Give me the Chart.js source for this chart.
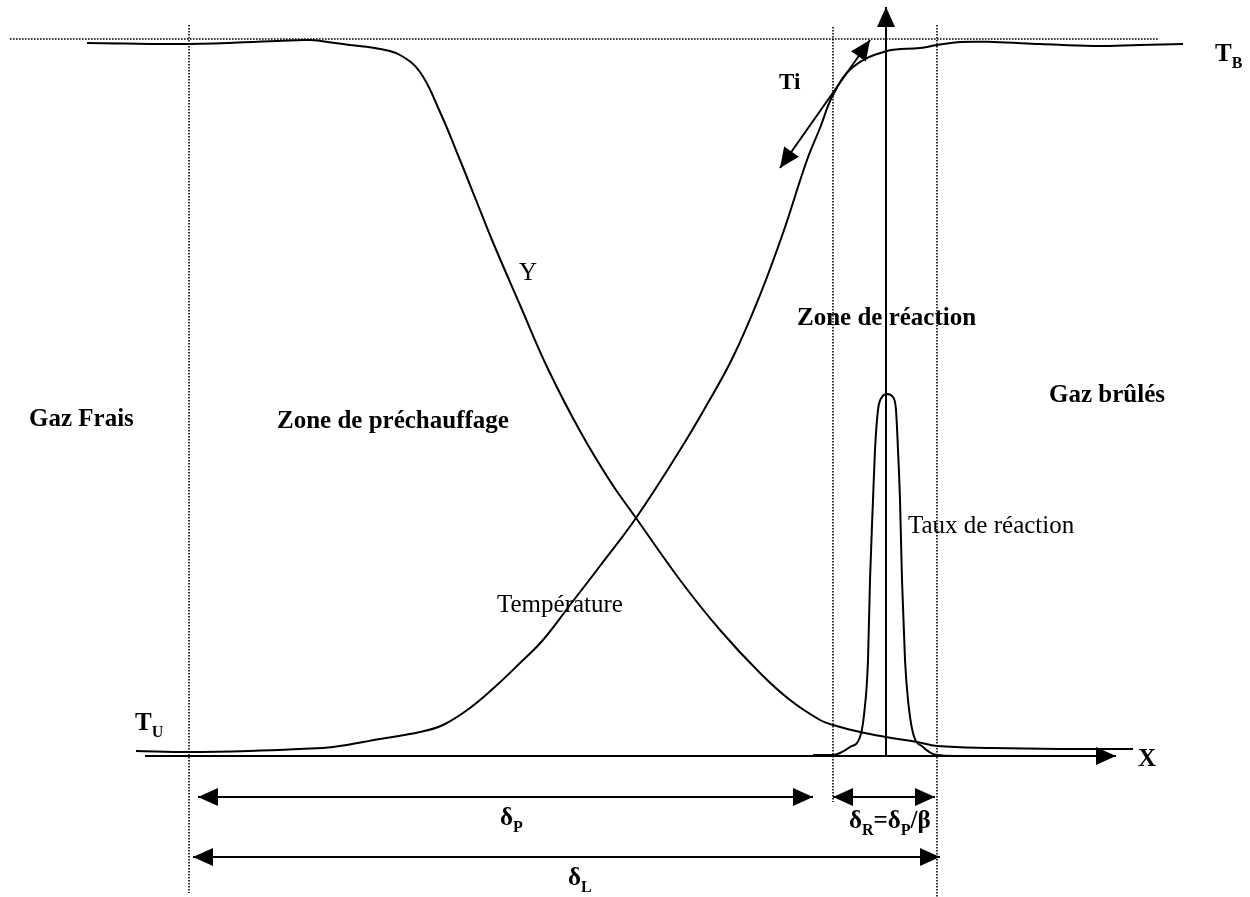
<!DOCTYPE html>
<html>
<head>
<meta charset="utf-8">
<script src="https://cdn.jsdelivr.net/npm/chart.js@4/dist/chart.umd.min.js"></script>
<style>
html,body{margin:0;padding:0;background:#fff;}
#wrap{width:1250px;height:897px;position:relative;}
</style>
</head>
<body>
<div id="wrap"><canvas id="c"></canvas></div>
<script>
// Position along the flame (arbitrary units) and level above T_U (arbitrary units)
const tempX = [136,189,250,300,333,380,420,443,470,497,520,543,570,600,636,680,705,733,760,783,807,820,833,853,887,920,937,960,993,1040,1093,1140,1183];
const tempY = [0,-1,0,2,4,12,19,26,43,66,88,111,146,185,233,301,343,394,456,518,591,623,656,684,700,703,706,709,709,707,705,706,707];

const fuelX = [87,189,277,310,335,350,380,400,420,440,460,476,492,520,548,580,610,636,680,720,760,790,820,833,860,886,917,937,993,1060,1133];
const fuelY = [708,707,710,711,708,706,702,696,679,639,591,551,511,446,382,320,270,233,171,121,78,51,31,26,19,14,9,5,3,2,2];

const rateX = [813,833,840,850,860,864,868,870,873,875,878,882,887,893,896,898,900,902,905,908,913,923,937,960];
const rateY = [-4,-4,-2,4,14,36,91,171,251,301,341,354,357,354,341,301,251,171,91,51,18,4,-4,-5];

// Dotted guide lines
const tbLineX = [10,1158];
const tbLineY = [712,712];
const zoneX = [189,833,937];
const zoneTop = [726,724,726];
const zoneBottom = [-142,-51,-146];

// Arrows (start -> end), heads: 'end' or 'both'
const arrowX1 = [145,886,198,833,193,780];
const arrowY1 = [-5,-6,-46,-46,-106,583];
const arrowX2 = [1116,886,813,935,940,870];
const arrowY2 = [-5,744,-46,-46,-106,711];
const arrowHeads = ['end','end','both','both','both','both'];

// Text labels ("_c" = subscript c)
const labelTexts = ['Gaz Frais','Zone de préchauffage','Zone de réaction','Gaz brûlés','Ti','Y','Température','Taux de réaction','T_B','T_U','X','δ_P','δ_R=δ_P/β','δ_L'];
const labelX = [29,277,797,1049,779,519,497,908,1215,135,1138,500,849,568];
const labelY = [325,323,426,349,662,471,139,218,690,21,-15,-74,-77,-134];
const labelBold = [true,true,true,true,true,false,false,false,true,true,true,true,true,true];
const labelSize = [25,25,25,25,23,25,25,25,25,25,25,25,25,25];

function pts(xs, ys){ return xs.map((v,i)=>({x:v,y:ys[i]})); }

const datasets = [
  {data:pts(tempX,tempY), showLine:true, borderColor:'#000', borderWidth:2, pointRadius:0, tension:0.4},
  {data:pts(fuelX,fuelY), showLine:true, borderColor:'#000', borderWidth:2, pointRadius:0, tension:0.4},
  {data:pts(rateX,rateY), showLine:true, borderColor:'#000', borderWidth:2, pointRadius:0, cubicInterpolationMode:'monotone'},
  {data:pts(tbLineX,tbLineY), showLine:true, borderColor:'#000', borderWidth:1.6, borderDash:[1.6,1.4], pointRadius:0}
];
zoneX.forEach((zx,i)=>{
  datasets.push({data:[{x:zx,y:zoneTop[i]},{x:zx,y:zoneBottom[i]}], showLine:true, borderColor:'#000', borderWidth:1.6, borderDash:[1.6,1.4], pointRadius:0});
});

function head(ctx, fx, fy, tx, ty, len, half){
  const a = Math.atan2(ty-fy, tx-fx);
  const bx = tx - len*Math.cos(a), by = ty - len*Math.sin(a);
  ctx.beginPath();
  ctx.moveTo(tx,ty);
  ctx.lineTo(bx + half*Math.sin(a), by - half*Math.cos(a));
  ctx.lineTo(bx - half*Math.sin(a), by + half*Math.cos(a));
  ctx.closePath();
  ctx.fill();
}

const FONT = '"Liberation Serif","Times New Roman",serif';

const schematic = {
  id:'schematic',
  afterDatasetsDraw(chart){
    const ctx = chart.ctx, xs = chart.scales.x, ys = chart.scales.y;
    ctx.save();
    ctx.strokeStyle = '#000'; ctx.fillStyle = '#000'; ctx.lineWidth = 2;
    for(let i=0;i<arrowX1.length;i++){
      const x1=xs.getPixelForValue(arrowX1[i]), y1=ys.getPixelForValue(arrowY1[i]);
      const x2=xs.getPixelForValue(arrowX2[i]), y2=ys.getPixelForValue(arrowY2[i]);
      ctx.beginPath(); ctx.moveTo(x1,y1); ctx.lineTo(x2,y2); ctx.stroke();
      head(ctx,x1,y1,x2,y2,20,9);
      if(arrowHeads[i]==='both') head(ctx,x2,y2,x1,y1,20,9);
    }
    ctx.textAlign='left'; ctx.textBaseline='alphabetic';
    for(let i=0;i<labelTexts.length;i++){
      let px = xs.getPixelForValue(labelX[i]);
      const py = ys.getPixelForValue(labelY[i]);
      const w = labelBold[i] ? 'bold ' : '';
      const s = labelTexts[i];
      let j=0;
      while(j<s.length){
        if(s[j]==='_'){
          ctx.font = w + Math.round(labelSize[i]*0.64) + 'px ' + FONT;
          ctx.fillText(s[j+1], px, py+7);
          px += ctx.measureText(s[j+1]).width;
          j+=2;
        } else {
          let k=j; while(k<s.length && s[k]!=='_') k++;
          const seg = s.slice(j,k);
          ctx.font = w + labelSize[i] + 'px ' + FONT;
          ctx.fillText(seg, px, py);
          px += ctx.measureText(seg).width;
          j=k;
        }
      }
    }
    ctx.restore();
  }
};

new Chart(document.getElementById('c'), {
  type:'scatter',
  data:{datasets},
  options:{
    responsive:true, maintainAspectRatio:false, animation:false, events:[],
    layout:{padding:0},
    plugins:{legend:{display:false}, tooltip:{enabled:false}},
    scales:{
      x:{type:'linear', display:false, min:0, max:1250},
      y:{type:'linear', display:false, min:-146, max:751}
    }
  },
  plugins:[schematic]
});
</script>
</body>
</html>
